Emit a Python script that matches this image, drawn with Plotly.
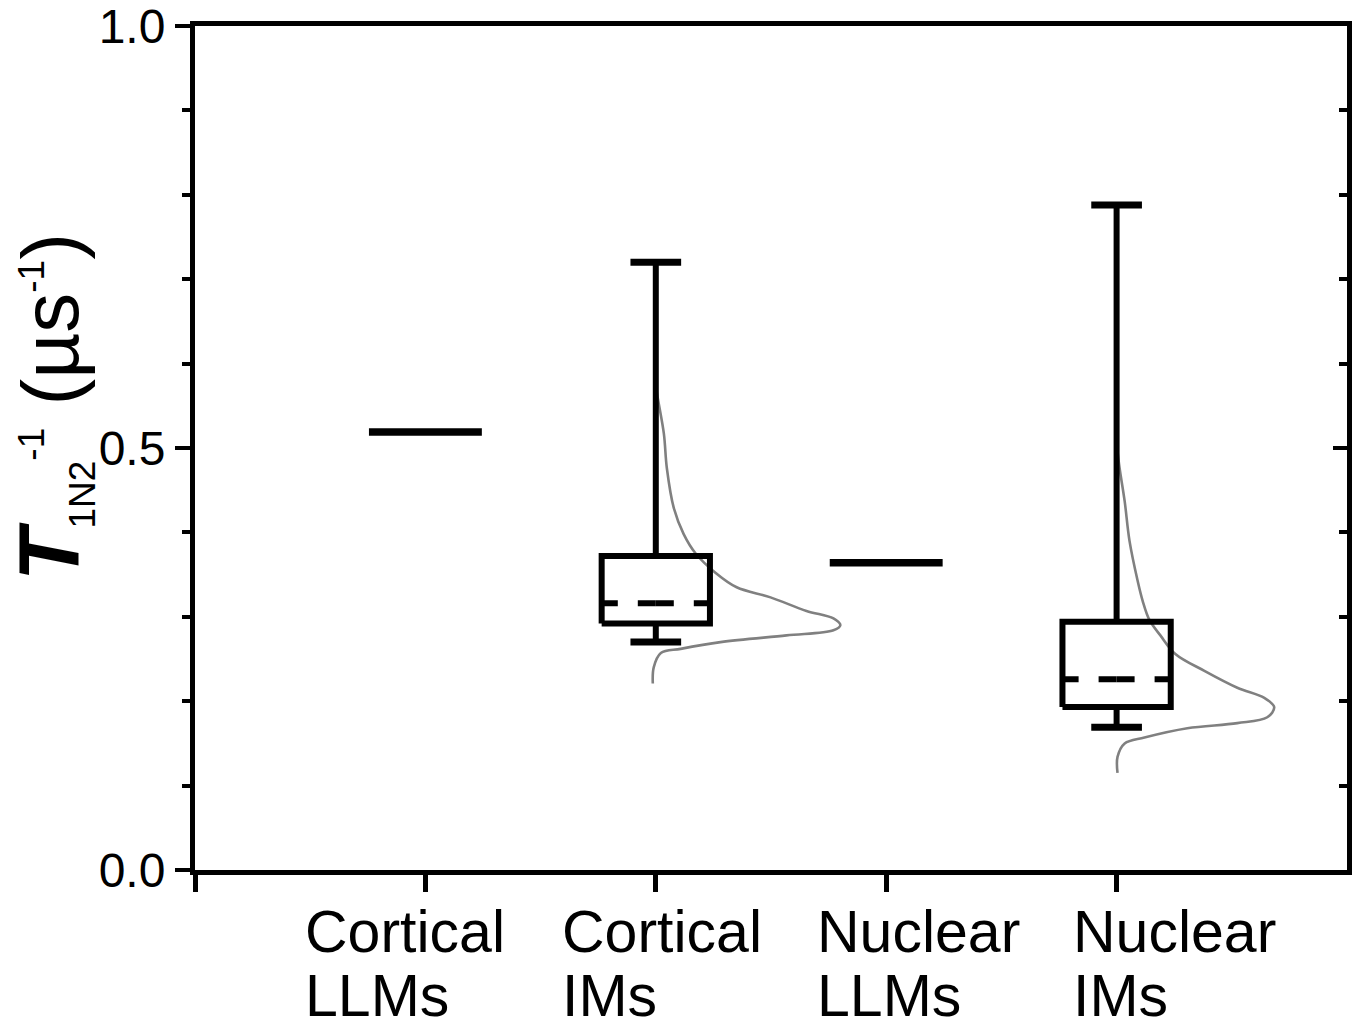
import plotly.graph_objects as go

# ---------------- data ----------------
categories = ["Cortical LLMs", "Cortical IMs", "Nuclear LLMs", "Nuclear IMs"]
label_line1 = ["Cortical", "Cortical", "Nuclear", "Nuclear"]
label_line2 = ["LLMs", "IMs", "LLMs", "IMs"]

# single-value groups (drawn as a horizontal line)
llm_groups = ["Cortical LLMs", "Nuclear LLMs"]
llm_values = [0.519, 0.364]

# box groups: lower whisker, Q1, median, Q3, upper whisker
box_groups = ["Cortical IMs", "Nuclear IMs"]
box_lower = [0.270, 0.169]
box_q1 = [0.292, 0.193]
box_median = [0.316, 0.226]
box_q3 = [0.372, 0.294]
box_upper = [0.720, 0.788]

# distribution curves (value, density offset in category units)
cort_im_curve_y = [0.579, 0.567, 0.517, 0.476, 0.429, 0.398, 0.375, 0.352, 0.335, 0.323,
                   0.307, 0.298, 0.290, 0.284, 0.278, 0.270, 0.262, 0.257, 0.240, 0.221]
cort_im_curve_d = [0.000, 0.004, 0.035, 0.048, 0.078, 0.121, 0.173, 0.260, 0.351, 0.498,
                   0.654, 0.771, 0.801, 0.771, 0.567, 0.281, 0.108, 0.022, -0.009, -0.013]
nuc_im_curve_y = [0.496, 0.476, 0.437, 0.390, 0.343, 0.319, 0.296, 0.278, 0.256, 0.236,
                  0.216, 0.204, 0.193, 0.181, 0.174, 0.168, 0.157, 0.150, 0.134, 0.115]
nuc_im_curve_d = [0.004, 0.013, 0.035, 0.056, 0.091, 0.113, 0.143, 0.190, 0.255, 0.381,
                  0.524, 0.641, 0.684, 0.654, 0.524, 0.307, 0.121, 0.035, 0.004, 0.004]
curves_y = [cort_im_curve_y, nuc_im_curve_y]
curves_d = [cort_im_curve_d, nuc_im_curve_d]

y_tickvals = [0.0, 0.5, 1.0]
y_ticktext = ["0.0", "0.5", "1.0"]

# ---------------- style ----------------
FONT = "Liberation Sans, Arial, Helvetica, sans-serif"
BLACK = "#000000"
GRAY = "#808080"
LLM_HALF = 0.245
BOX_HALF = 0.235
CAP_HALF = 0.11

pos = {c: i + 1 for i, c in enumerate(categories)}

fig = go.Figure()


def line(xs, ys, width, color=BLACK, dash="solid", shape="linear"):
    fig.add_trace(go.Scatter(x=xs, y=ys, mode="lines",
                             line=dict(color=color, width=width, dash=dash, shape=shape),
                             showlegend=False, hoverinfo="skip"))


# single-value lines
for g, v in zip(llm_groups, llm_values):
    c = pos[g]
    line([c - LLM_HALF, c + LLM_HALF], [v, v], 7.5)

# distribution curves (behind boxes)
for g, cy, cd in zip(box_groups, curves_y, curves_d):
    c = pos[g]
    line([c + d for d in cd], cy, 2.6, color=GRAY, shape="spline")

# boxes
for i, g in enumerate(box_groups):
    c = pos[g]
    lo, q1, med, q3, hi = box_lower[i], box_q1[i], box_median[i], box_q3[i], box_upper[i]
    line([c, c], [q3, hi], 6)
    line([c, c], [lo, q1], 6)
    line([c - CAP_HALF, c + CAP_HALF], [hi, hi], 7)
    line([c - CAP_HALF, c + CAP_HALF], [lo, lo], 7)
    line([c - BOX_HALF, c + BOX_HALF, c + BOX_HALF, c - BOX_HALF, c - BOX_HALF],
         [q1, q1, q3, q3, q1], 6)
    line([c, c - BOX_HALF], [med, med], 6, dash="18px,20px")
    line([c, c + BOX_HALF], [med, med], 6, dash="18px,20px")

# invisible trace to activate right-hand axis
fig.add_trace(go.Scatter(x=[0], y=[0], yaxis="y2", mode="markers", opacity=0,
                         showlegend=False, hoverinfo="skip"))

# category labels: left-aligned two-line blocks below the axis
label_left = [0.094, 0.317, 0.538, 0.760]
annotations = []
for i in range(len(categories)):
    for txt, yy in ((label_line1[i], -0.0735), (label_line2[i], -0.1495)):
        annotations.append(dict(
            text=txt, xref="paper", yref="paper", x=label_left[i], y=yy,
            xanchor="left", yanchor="middle", showarrow=False,
            font=dict(size=59, family=FONT, color=BLACK)))

annotations.append(dict(
    text=('<span style="font-size:86px"><b><i>T</i></b></span>'
          '<sub><span style="font-size:37px">1N2</span></sub>'
          '<sup><span style="font-size:37px">-1</span></sup>'
          ' (µs<sup><span style="font-size:37px">-1</span></sup>)'),
    textangle=-90, xref="paper", yref="paper",
    x=-0.1245, y=0.548, xanchor="center", yanchor="middle",
    showarrow=False, font=dict(size=80, family=FONT, color=BLACK)))

fig.update_layout(
    width=1357, height=1030,
    margin=dict(l=195, r=10, t=26, b=160, pad=0, autoexpand=False),
    paper_bgcolor="white", plot_bgcolor="white",
    font=dict(family=FONT, color=BLACK),
    xaxis=dict(
        range=[0, 5], tickmode="array",
        tickvals=[0] + [pos[c] for c in categories],
        ticktext=[""] * 5, automargin=False,
        ticks="outside", ticklen=17, tickwidth=5, tickcolor=BLACK,
        showline=True, linewidth=5, linecolor=BLACK, mirror=True,
        showgrid=False, zeroline=False,
    ),
    yaxis=dict(
        range=[0, 1], tickmode="array", tickvals=y_tickvals, ticktext=y_ticktext,
        automargin=False, ticklabeloverflow="allow",
        ticks="outside", ticklen=15, tickwidth=4, tickcolor=BLACK,
        minor=dict(ticks="outside", ticklen=8, tickwidth=4, tickcolor=BLACK,
                   tick0=0, dtick=0.1, showgrid=False),
        showline=True, linewidth=5, linecolor=BLACK, mirror=True,
        showgrid=False, zeroline=False,
        tickfont=dict(size=48, family=FONT, color=BLACK),
    ),
    yaxis2=dict(
        range=[0, 1], overlaying="y", side="right", tickmode="array",
        tickvals=y_tickvals, showticklabels=False, automargin=False,
        ticks="inside", ticklen=14, tickwidth=4, tickcolor=BLACK,
        minor=dict(ticks="inside", ticklen=8, tickwidth=4, tickcolor=BLACK,
                   tick0=0, dtick=0.1, showgrid=False),
        showline=False, showgrid=False, zeroline=False,
    ),
    annotations=annotations,
)

fig.write_html("out.html")
